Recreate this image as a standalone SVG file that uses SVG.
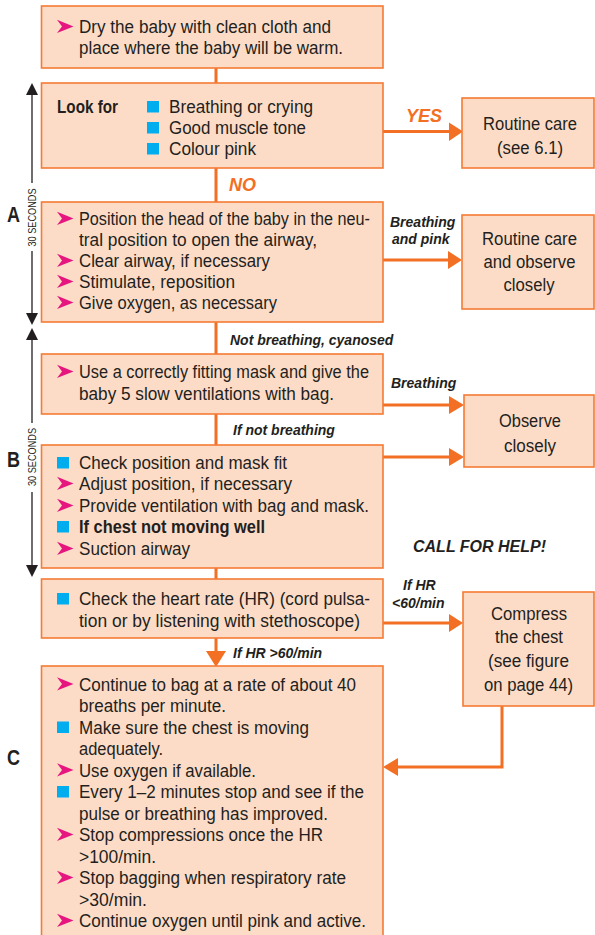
<svg xmlns="http://www.w3.org/2000/svg" width="595" height="935" viewBox="0 0 595 935">
<style>
.box{fill:#FDDCC7;stroke:#F47B35;stroke-width:1.6}
.t{font-family:"Liberation Sans",Arial,sans-serif;font-size:17.5px;fill:#231F20}
.c{text-anchor:middle}
.b{font-weight:bold}
.lbl{font-family:"Liberation Sans",Arial,sans-serif;font-size:14px;font-weight:bold;font-style:italic;fill:#231F20}
.or{fill:#F26F24;font-size:18px}
.side{font-family:"Liberation Sans",Arial,sans-serif;font-size:22px;font-weight:bold;fill:#231F20}
.sec{font-family:"Liberation Sans",Arial,sans-serif;font-size:10.5px;fill:#231F20;text-anchor:middle}
.con{fill:none;stroke:#F26F24;stroke-width:3}
.ah{fill:#F26F24}
.tl{stroke:#231F20;stroke-width:1.3;fill:none}
.tah{fill:#231F20}
.pink{fill:#E6157F}
.blue{fill:#00AEEF}
</style>
<defs>
<path id="pb" class="pink" d="M0,-13.3 L16.5,-6.6 L0,0 L5,-6.6 Z"/>
<rect id="bs" class="blue" x="0" y="-12" width="12" height="11.5"/>
</defs>

<g id="timing">
<path class="tl" d="M32,94 V183 M32,251 V314"/>
<polygon class="tah" points="32,83 26,95 38,95"/>
<polygon class="tah" points="32,325 26,313 38,313"/>
<text class="sec" transform="translate(35.5,217.5) rotate(-90)" textLength="58" lengthAdjust="spacingAndGlyphs">30 SECONDS</text>
<path class="tl" d="M32,339 V423 M32,492 V566"/>
<polygon class="tah" points="32,328 26,340 38,340"/>
<polygon class="tah" points="32,577 26,565 38,565"/>
<text class="sec" transform="translate(35.5,457) rotate(-90)" textLength="58" lengthAdjust="spacingAndGlyphs">30 SECONDS</text>
<text class="side" x="7" y="222" textLength="13" lengthAdjust="spacingAndGlyphs">A</text>
<text class="side" x="7" y="467" textLength="13" lengthAdjust="spacingAndGlyphs">B</text>
<text class="side" x="7" y="765" textLength="13" lengthAdjust="spacingAndGlyphs">C</text>
</g>

<g id="connectors">
<path class="con" d="M216,68 V83 M216,168 V202 M216,322 V354 M216,414 V445 M216,568 V579 M216,638 V653"/>
<polygon class="ah" points="206,651 226,651 216,667"/>
<path class="con" d="M383,131.5 H451"/>
<polygon class="ah" points="449,122.5 463,131.5 449,141"/>
<path class="con" d="M383,260 H450"/>
<polygon class="ah" points="448,251 462,260 448,269"/>
<path class="con" d="M383,405 H451"/>
<polygon class="ah" points="449,396 464,405 449,414"/>
<path class="con" d="M383,457 H451"/>
<polygon class="ah" points="449,448 464,457 449,466"/>
<path class="con" d="M383,623 H451"/>
<polygon class="ah" points="449,614 463,623 449,632"/>
<path class="con" d="M502,706 V767 H396"/>
<polygon class="ah" points="398,758 383,767 398,776"/>
<text class="lbl or" x="406" y="122">YES</text>
<text class="lbl or" x="229" y="191">NO</text>
<text class="lbl" x="390" y="227">Breathing</text>
<text class="lbl" x="392" y="244">and pink</text>
<text class="lbl" x="230" y="345">Not breathing, cyanosed</text>
<text class="lbl" x="391" y="388">Breathing</text>
<text class="lbl" x="233" y="435">If not breathing</text>
<text class="lbl" x="403" y="590">If HR</text>
<text class="lbl" x="392" y="608">&lt;60/min</text>
<text class="lbl" x="233" y="658">If HR &gt;60/min</text>
<text class="lbl" x="413" y="552" style="font-size:16px">CALL FOR HELP!</text>
</g>

<g id="n1">
<rect class="box" x="41.5" y="6" width="341.5" height="62"/>
<use href="#pb" x="57" y="33"/>
<text class="t" x="79" y="33" textLength="252" lengthAdjust="spacingAndGlyphs">Dry the baby with clean cloth and</text>
<text class="t" x="79" y="54" textLength="264" lengthAdjust="spacingAndGlyphs">place where the baby will be warm.</text>
</g>

<g id="n2">
<rect class="box" x="41.5" y="83" width="341.5" height="85"/>
<text class="t b" x="57" y="113" textLength="61" lengthAdjust="spacingAndGlyphs">Look for</text>
<use href="#bs" x="147" y="113"/>
<use href="#bs" x="147" y="134"/>
<use href="#bs" x="147" y="155"/>
<text class="t" x="169" y="113" textLength="144" lengthAdjust="spacingAndGlyphs">Breathing or crying</text>
<text class="t" x="169" y="134" textLength="137" lengthAdjust="spacingAndGlyphs">Good muscle tone</text>
<text class="t" x="169" y="155" textLength="87" lengthAdjust="spacingAndGlyphs">Colour pink</text>
</g>

<g id="n3">
<rect class="box" x="462" y="98" width="132" height="70"/>
<text class="t c" x="530" y="130" textLength="94" lengthAdjust="spacingAndGlyphs">Routine care</text>
<text class="t c" x="530" y="154" textLength="66" lengthAdjust="spacingAndGlyphs">(see 6.1)</text>
</g>

<g id="n4">
<rect class="box" x="41.5" y="202" width="341.5" height="120"/>
<use href="#pb" x="57" y="225"/>
<use href="#pb" x="57" y="267"/>
<use href="#pb" x="57" y="288"/>
<use href="#pb" x="57" y="309"/>
<text class="t" x="79" y="225" textLength="291" lengthAdjust="spacingAndGlyphs">Position the head of the baby in the neu-</text>
<text class="t" x="79" y="246" textLength="238" lengthAdjust="spacingAndGlyphs">tral position to open the airway,</text>
<text class="t" x="79" y="267" textLength="191" lengthAdjust="spacingAndGlyphs">Clear airway, if necessary</text>
<text class="t" x="79" y="288" textLength="156" lengthAdjust="spacingAndGlyphs">Stimulate, reposition</text>
<text class="t" x="79" y="309" textLength="198" lengthAdjust="spacingAndGlyphs">Give oxygen, as necessary</text>
</g>

<g id="n5">
<rect class="box" x="462" y="215" width="132" height="94"/>
<text class="t c" x="529.5" y="245" textLength="95" lengthAdjust="spacingAndGlyphs">Routine care</text>
<text class="t c" x="529.5" y="268" textLength="92" lengthAdjust="spacingAndGlyphs">and observe</text>
<text class="t c" x="529" y="291" textLength="51" lengthAdjust="spacingAndGlyphs">closely</text>
</g>

<g id="n6">
<rect class="box" x="41.5" y="354" width="341.5" height="60"/>
<use href="#pb" x="57" y="378"/>
<text class="t" x="79" y="378" textLength="290" lengthAdjust="spacingAndGlyphs">Use a correctly fitting mask and give the</text>
<text class="t" x="79" y="400" textLength="255" lengthAdjust="spacingAndGlyphs">baby 5 slow ventilations with bag.</text>
</g>

<g id="n7">
<rect class="box" x="464" y="395" width="130" height="72"/>
<text class="t c" x="530" y="427" textLength="62" lengthAdjust="spacingAndGlyphs">Observe</text>
<text class="t c" x="530" y="452" textLength="52" lengthAdjust="spacingAndGlyphs">closely</text>
</g>

<g id="n8">
<rect class="box" x="41.5" y="445" width="341.5" height="123"/>
<use href="#bs" x="57" y="469"/>
<use href="#pb" x="57" y="490"/>
<use href="#pb" x="57" y="512"/>
<use href="#bs" x="57" y="533"/>
<use href="#pb" x="57" y="555"/>
<text class="t" x="79" y="469" textLength="208" lengthAdjust="spacingAndGlyphs">Check position and mask fit</text>
<text class="t" x="79" y="490" textLength="213" lengthAdjust="spacingAndGlyphs">Adjust position, if necessary</text>
<text class="t" x="79" y="512" textLength="290" lengthAdjust="spacingAndGlyphs">Provide ventilation with bag and mask.</text>
<text class="t b" x="79" y="533" textLength="186" lengthAdjust="spacingAndGlyphs">If chest not moving well</text>
<text class="t" x="79" y="555" textLength="111" lengthAdjust="spacingAndGlyphs">Suction airway</text>
</g>

<g id="n9">
<rect class="box" x="41.5" y="579" width="341.5" height="59"/>
<use href="#bs" x="57" y="605"/>
<text class="t" x="79" y="605" textLength="291" lengthAdjust="spacingAndGlyphs">Check the heart rate (HR) (cord pulsa-</text>
<text class="t" x="79" y="627" textLength="281" lengthAdjust="spacingAndGlyphs">tion or by listening with stethoscope)</text>
</g>

<g id="n10">
<rect class="box" x="463" y="592" width="131" height="114"/>
<text class="t c" x="529" y="620" textLength="76" lengthAdjust="spacingAndGlyphs">Compress</text>
<text class="t c" x="529" y="643" textLength="68" lengthAdjust="spacingAndGlyphs">the chest</text>
<text class="t c" x="528.5" y="667" textLength="81" lengthAdjust="spacingAndGlyphs">(see figure</text>
<text class="t c" x="528.5" y="691" textLength="89" lengthAdjust="spacingAndGlyphs">on page 44)</text>
</g>

<g id="n11">
<rect class="box" x="41.5" y="666" width="341.5" height="280"/>
<use href="#pb" x="57" y="690.5"/>
<use href="#bs" x="57" y="733.5"/>
<use href="#pb" x="57" y="776.5"/>
<use href="#bs" x="57" y="798"/>
<use href="#pb" x="57" y="841"/>
<use href="#pb" x="57" y="884"/>
<use href="#pb" x="57" y="927"/>
<text class="t" x="79" y="690.5" textLength="277" lengthAdjust="spacingAndGlyphs">Continue to bag at a rate of about 40</text>
<text class="t" x="79" y="712" textLength="147" lengthAdjust="spacingAndGlyphs">breaths per minute.</text>
<text class="t" x="79" y="733.5" textLength="230" lengthAdjust="spacingAndGlyphs">Make sure the chest is moving</text>
<text class="t" x="79" y="755" textLength="84" lengthAdjust="spacingAndGlyphs">adequately.</text>
<text class="t" x="79" y="776.5" textLength="177" lengthAdjust="spacingAndGlyphs">Use oxygen if available.</text>
<text class="t" x="79" y="798" textLength="285" lengthAdjust="spacingAndGlyphs">Every 1–2 minutes stop and see if the</text>
<text class="t" x="79" y="819.5" textLength="249" lengthAdjust="spacingAndGlyphs">pulse or breathing has improved.</text>
<text class="t" x="79" y="841" textLength="244" lengthAdjust="spacingAndGlyphs">Stop compressions once the HR</text>
<text class="t" x="79" y="862.5" textLength="77" lengthAdjust="spacingAndGlyphs">&gt;100/min.</text>
<text class="t" x="79" y="884" textLength="267" lengthAdjust="spacingAndGlyphs">Stop bagging when respiratory rate</text>
<text class="t" x="79" y="905.5" textLength="68" lengthAdjust="spacingAndGlyphs">&gt;30/min.</text>
<text class="t" x="79" y="927" textLength="287" lengthAdjust="spacingAndGlyphs">Continue oxygen until pink and active.</text>
</g>
</svg>
